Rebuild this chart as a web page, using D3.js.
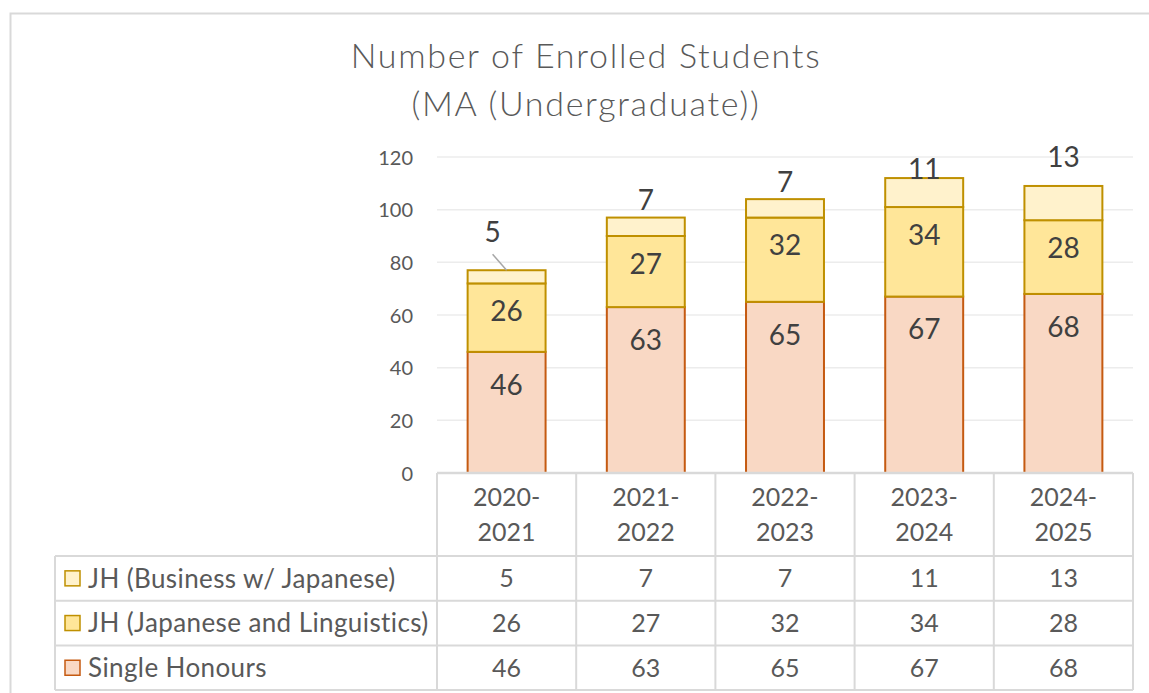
<!DOCTYPE html>
<html>
<head>
<meta charset="utf-8">
<script src="https://cdn.jsdelivr.net/npm/d3@7"></script>
<style>
  html, body { margin: 0; padding: 0; background: #fff; }
  svg { display: block; font-family: Lato, "Open Sans", sans-serif; }
</style>
</head>
<body>
<div id="chart"></div>
<script>
const categories = ["2020-2021", "2021-2022", "2022-2023", "2023-2024", "2024-2025"]
const seriesNames = ["Single Honours", "JH (Japanese and Linguistics)", "JH (Business w/ Japanese)"]
const singleHonours = [46, 63, 65, 67, 68]
const jhLinguistics = [26, 27, 32, 34, 28]
const jhBusiness = [5, 7, 7, 11, 13]
const yTicks = [0, 20, 40, 60, 80, 100, 120]
const titleLines = ["Number of Enrolled Students", "(MA (Undergraduate))"]

const width = 1149
const height = 693

const options = {}
options.plotLeft = 437 // left of plot and table columns
options.plotRight = 1133
options.plotTop = 157
options.plotBottom = 473
options.legendLeft = 55
options.headerBottom = 556
options.rowHeight = 44.7
options.grid = "#ececec"
options.tableLine = "#d9d9d9"
options.textColor = "#595959"
options.labelColor = "#404040"
options.fills = ["#f9d8c4", "#ffe699", "#fff2cc"]
options.strokes = ["#c55a11", "#bf9000", "#bf9000"]

const rows = categories.map((c, i) => ({
  category: c,
  [seriesNames[0]]: singleHonours[i],
  [seriesNames[1]]: jhLinguistics[i],
  [seriesNames[2]]: jhBusiness[i]
}))

const stack = d3.stack().keys(seriesNames)(rows)

const svg = d3.select("#chart").append("svg")
  .attr("width", width)
  .attr("height", height)

// chart area border
svg.append("rect")
  .attr("x", 10.5).attr("y", 13.5)
  .attr("width", 1160).attr("height", 700)
  .attr("fill", "#fff")
  .attr("stroke", "#d9d9d9")
  .attr("stroke-width", 2)

const x = d3.scaleBand()
  .domain(categories)
  .range([options.plotLeft, options.plotRight])
  .paddingInner(0.44)
  .paddingOuter(0.22)

const step = x.step()

const y = d3.scaleLinear()
  .domain([0, 120])
  .range([options.plotBottom, options.plotTop])

// title
svg.append("g")
  .attr("fill", options.textColor)
  .attr("font-size", 34)
  .attr("font-weight", 300)
  .attr("text-anchor", "middle")
  .selectAll("text")
  .data(titleLines)
  .join("text")
    .attr("x", 586)
    .attr("y", (d, i) => 68 + i * 48)
    .attr("letter-spacing", 1.7)
    .text(d => d)

// gridlines
svg.append("g")
  .selectAll("line")
  .data(yTicks.filter(t => t > 0))
  .join("line")
    .attr("x1", options.plotLeft)
    .attr("x2", options.plotRight)
    .attr("y1", d => y(d))
    .attr("y2", d => y(d))
    .attr("stroke", options.grid)
    .attr("stroke-width", 1.5)

// y axis
const yAxis = svg.append("g")
  .attr("transform", `translate(${options.plotLeft},0)`)
  .call(d3.axisLeft(y).tickValues(yTicks).tickSize(0).tickPadding(24))
yAxis.select(".domain").remove()
yAxis.selectAll("text")
  .attr("fill", options.textColor)
  .attr("font-size", 20)
  .attr("font-family", "Lato, sans-serif")
  .attr("dy", "0.35em")

// bars
const layers = svg.append("g")
  .selectAll("g")
  .data(stack)
  .join("g")
    .attr("fill", (d, i) => options.fills[i])
    .attr("stroke", (d, i) => options.strokes[i])
    .attr("stroke-width", 2)

layers.selectAll("rect")
  .data(d => d)
  .join("rect")
    .attr("x", d => x(d.data.category))
    .attr("width", x.bandwidth())
    .attr("y", d => y(d[1]))
    .attr("height", d => y(d[0]) - y(d[1]))

// segment labels (Excel style, near the top of each segment)
const labelOffsets = [33, 28]
stack.slice(0, 2).forEach((layer, li) => {
  svg.append("g")
    .attr("fill", options.labelColor)
    .attr("font-size", 28)
    .attr("text-anchor", "middle")
    .selectAll("text")
    .data(layer)
    .join("text")
      .attr("x", d => x(d.data.category) + x.bandwidth() / 2)
      .attr("y", d => y(d[1]) + labelOffsets[li])
      .attr("dy", "0.35em")
      .text(d => d[1] - d[0])
})

// top series labels, placed above the bars (some were dragged in the original)
const topNudge = {
  "2020-2021": { dx: -14, lift: 38 },
  "2023-2024": { dx: 0, lift: 9 },
  "2024-2025": { dx: 0, lift: 29 }
}
const topLayer = stack[2]
const topLabels = svg.append("g")
topLayer.forEach(d => {
  const c = d.data.category
  const n = topNudge[c] || { dx: 0, lift: 17 }
  const cx = x(c) + x.bandwidth() / 2
  const ly = y(d[1]) - n.lift
  if (n.lift > 30) {
    topLabels.append("line")
      .attr("x1", cx + n.dx)
      .attr("y1", ly + 22)
      .attr("x2", cx)
      .attr("y2", y(d[1]))
      .attr("stroke", "#a6a6a6")
      .attr("stroke-width", 1.5)
  }
  topLabels.append("text")
    .attr("x", cx + n.dx)
    .attr("y", ly)
    .attr("dy", "0.35em")
    .attr("text-anchor", "middle")
    .attr("fill", options.labelColor)
    .attr("font-size", 28)
    .text(d[1] - d[0])
})

// data table
const table = svg.append("g")
const tableRows = [
  { name: seriesNames[2], values: jhBusiness, si: 2 },
  { name: seriesNames[1], values: jhLinguistics, si: 1 },
  { name: seriesNames[0], values: singleHonours, si: 0 }
]
const tableBottom = options.headerBottom + options.rowHeight * tableRows.length

// horizontal lines
table.append("line")
  .attr("x1", options.plotLeft).attr("x2", options.plotRight)
  .attr("y1", options.plotBottom).attr("y2", options.plotBottom)
  .attr("stroke", options.tableLine).attr("stroke-width", 2.5)
d3.range(tableRows.length + 1).forEach(i => {
  const ly = options.headerBottom + i * options.rowHeight
  table.append("line")
    .attr("x1", options.legendLeft).attr("x2", options.plotRight)
    .attr("y1", ly).attr("y2", ly)
    .attr("stroke", options.tableLine).attr("stroke-width", 2)
})

// vertical lines
table.append("line")
  .attr("x1", options.legendLeft).attr("x2", options.legendLeft)
  .attr("y1", options.headerBottom).attr("y2", tableBottom)
  .attr("stroke", options.tableLine).attr("stroke-width", 2)
categories.concat([null]).forEach((c, i) => {
  const lx = options.plotLeft + i * step
  table.append("line")
    .attr("x1", lx).attr("x2", lx)
    .attr("y1", options.plotBottom).attr("y2", tableBottom)
    .attr("stroke", options.tableLine).attr("stroke-width", 2)
})

// header (category names on two lines)
categories.forEach(c => {
  const parts = c.split("-")
  const t = table.append("text")
    .attr("x", x(c) + x.bandwidth() / 2)
    .attr("text-anchor", "middle")
    .attr("fill", options.textColor)
    .attr("font-size", 25)
  t.append("tspan").attr("x", x(c) + x.bandwidth() / 2).attr("y", 506).text(parts[0] + "-")
  t.append("tspan").attr("x", x(c) + x.bandwidth() / 2).attr("y", 541).text(parts[1])
})

// rows
tableRows.forEach((r, ri) => {
  const cy = options.headerBottom + ri * options.rowHeight + options.rowHeight / 2
  table.append("rect")
    .attr("x", 65).attr("y", cy - 7.5)
    .attr("width", 15).attr("height", 15)
    .attr("fill", options.fills[r.si])
    .attr("stroke", options.strokes[r.si])
    .attr("stroke-width", 1.5)
  table.append("text")
    .attr("x", 88).attr("y", cy)
    .attr("dy", "0.36em")
    .attr("fill", options.textColor)
    .attr("font-size", 26)
    .attr("letter-spacing", 0.4)
    .text(r.name)
  r.values.forEach((v, ci) => {
    table.append("text")
      .attr("x", x(categories[ci]) + x.bandwidth() / 2)
      .attr("y", cy)
      .attr("dy", "0.36em")
      .attr("text-anchor", "middle")
      .attr("fill", options.textColor)
      .attr("font-size", 25)
      .text(v)
  })
})
</script>
</body>
</html>
